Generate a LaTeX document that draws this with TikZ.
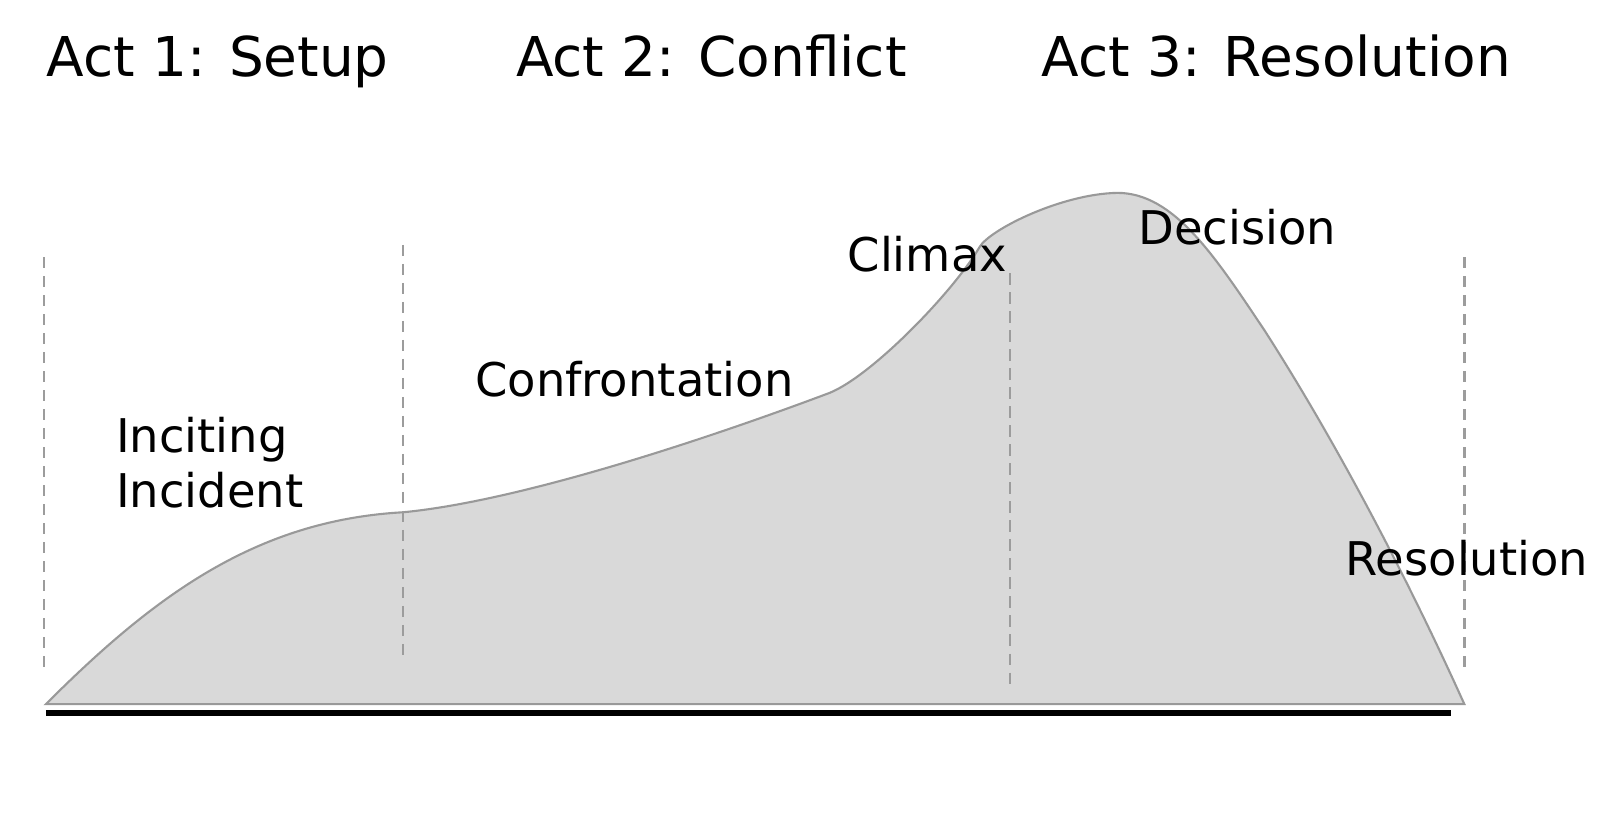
\documentclass[tikz,border=0pt]{standalone}
\usepackage{fontspec}
\setmainfont{DejaVu Sans}
\usetikzlibrary{positioning}

\definecolor{hillfill}{HTML}{D9D9D9}
\definecolor{hillline}{HTML}{999999}
\definecolor{divline}{HTML}{9C9C9C}

\tikzset{
    acttitle/.style={anchor=base west, inner sep=0pt, font=\fontsize{15.6}{18}\selectfont},
    beatlabel/.style={anchor=base west, inner sep=0pt, align=left, font=\fontsize{13.2}{15.6}\selectfont},
    divider/.style={draw=divline, line width=0.7pt, dash pattern=on 3.2pt off 2.2pt}
}

\begin{document}
\begin{tikzpicture}[x=0.0102cm, y=-0.0102cm]

    % Fix the page to the size of the reference
    \useasboundingbox (0,0) rectangle (1568,804);

    % Points where the act dividers start and end
    \coordinate (d1top) at (43,252);
    \coordinate (d1bot) at (43,660);
    \coordinate (d2top) at (395,240);
    \coordinate (d2bot) at (395,645);
    \coordinate (d3top) at (990,268);
    \coordinate (d3bot) at (990,672);
    \coordinate (d4top) at (1435,252);
    \coordinate (d4bot) at (1435,660);

    % Draw the tension curve as a filled hill
    \filldraw[fill=hillfill, draw=hillline, line width=0.6pt]
        (45,690) .. controls (150,585) and (250,510) .. (395,502)
        .. controls (520,490) and (720,420) .. (813,385)
        .. controls (855,368) and (935,285) .. (960,242)
        .. controls (970,225) and (1040,190) .. (1095,189)
        .. controls (1150,189) and (1190,250) .. (1240,325)
        .. controls (1320,450) and (1390,590) .. (1435,690)
        -- cycle;

    % Draw the act dividers
    \draw[divider] (d1top) -- (d1bot);
    \draw[divider] (d2top) -- (d2bot);
    \draw[divider] (d3top) -- (d3bot);
    \draw[divider] (d4top) -- (d4bot);

    % Draw the time line under the hill
    \coordinate (tstart) at (45,699);
    \coordinate (tend) at (1422,699);
    \draw[line width=1.8pt] (tstart) -- (tend);

    % Add the act titles
    \node[acttitle] (act1) at (45,75) {Act 1: Setup};
    \node[acttitle] (act2) at (505,75) {Act 2: Conflict};
    \node[acttitle] (act3) at (1020,75) {Act 3: Resolution};

    % Add the labels along the curve
    \node[beatlabel] (inciting) at (113,497) {Inciting\\Incident};
    \node[beatlabel] (confront) at (465,389) {Confrontation};
    \node[beatlabel] (climax) at (830,266) {Climax};
    \node[beatlabel] (decision) at (1115,240) {Decision};
    \node[beatlabel] (resol) at (1318,564) {Resolution};

\end{tikzpicture}
\end{document}
